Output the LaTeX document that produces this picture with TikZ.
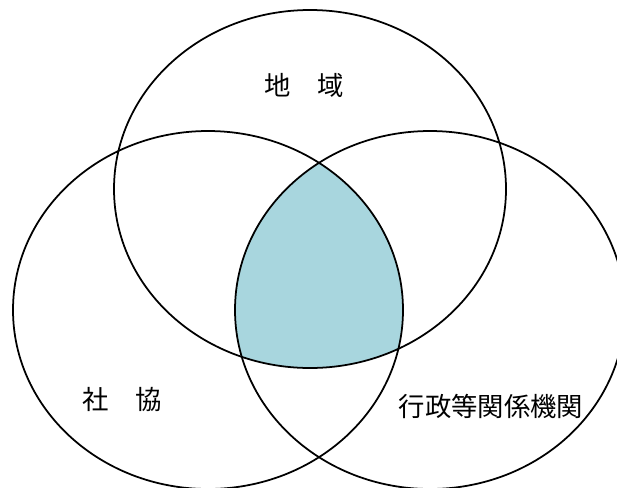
\documentclass[tikz,border=0pt]{standalone}
\usepackage{fontspec}
\newfontfamily\jpfont{Noto Sans CJK JP}
\usepackage{xcolor}
\definecolor{mycyan}{RGB}{168,214,222}
\tikzset{ring/.style={draw=black,line width=1pt},
         lbl/.style={font=\jpfont\fontsize{15}{18}\selectfont,inner sep=0pt}}
\begin{document}
\begin{tikzpicture}[x=0.02cm,y=-0.02cm]
            % frame
            \useasboundingbox (0,0) rectangle (617,487);
            \clip (0,0) rectangle (617,487);
            \coordinate (ctop) at (310,189);
            \coordinate (cleft) at (208,310);
            \coordinate (cright) at (430,310);
            % common part
            \begin{scope}
                \clip (ctop) ellipse (196 and 179);
                \clip (cleft) ellipse (195 and 179);
                \fill [mycyan] (cright) ellipse (195 and 179);
            \end{scope}
            % circles
            \draw [ring] (ctop) ellipse (196 and 179);
            \draw [ring] (cleft) ellipse (195 and 179);
            \draw [ring] (cright) ellipse (195 and 179);
            % labels
            \node[lbl] (chiiki) at (304,85) {地　域};
            \node[lbl] (shakyo) at (122,399) {社　協};
            \node[lbl] (gyosei) at (491,406) {行政等関係機関};
\end{tikzpicture}
\end{document}
